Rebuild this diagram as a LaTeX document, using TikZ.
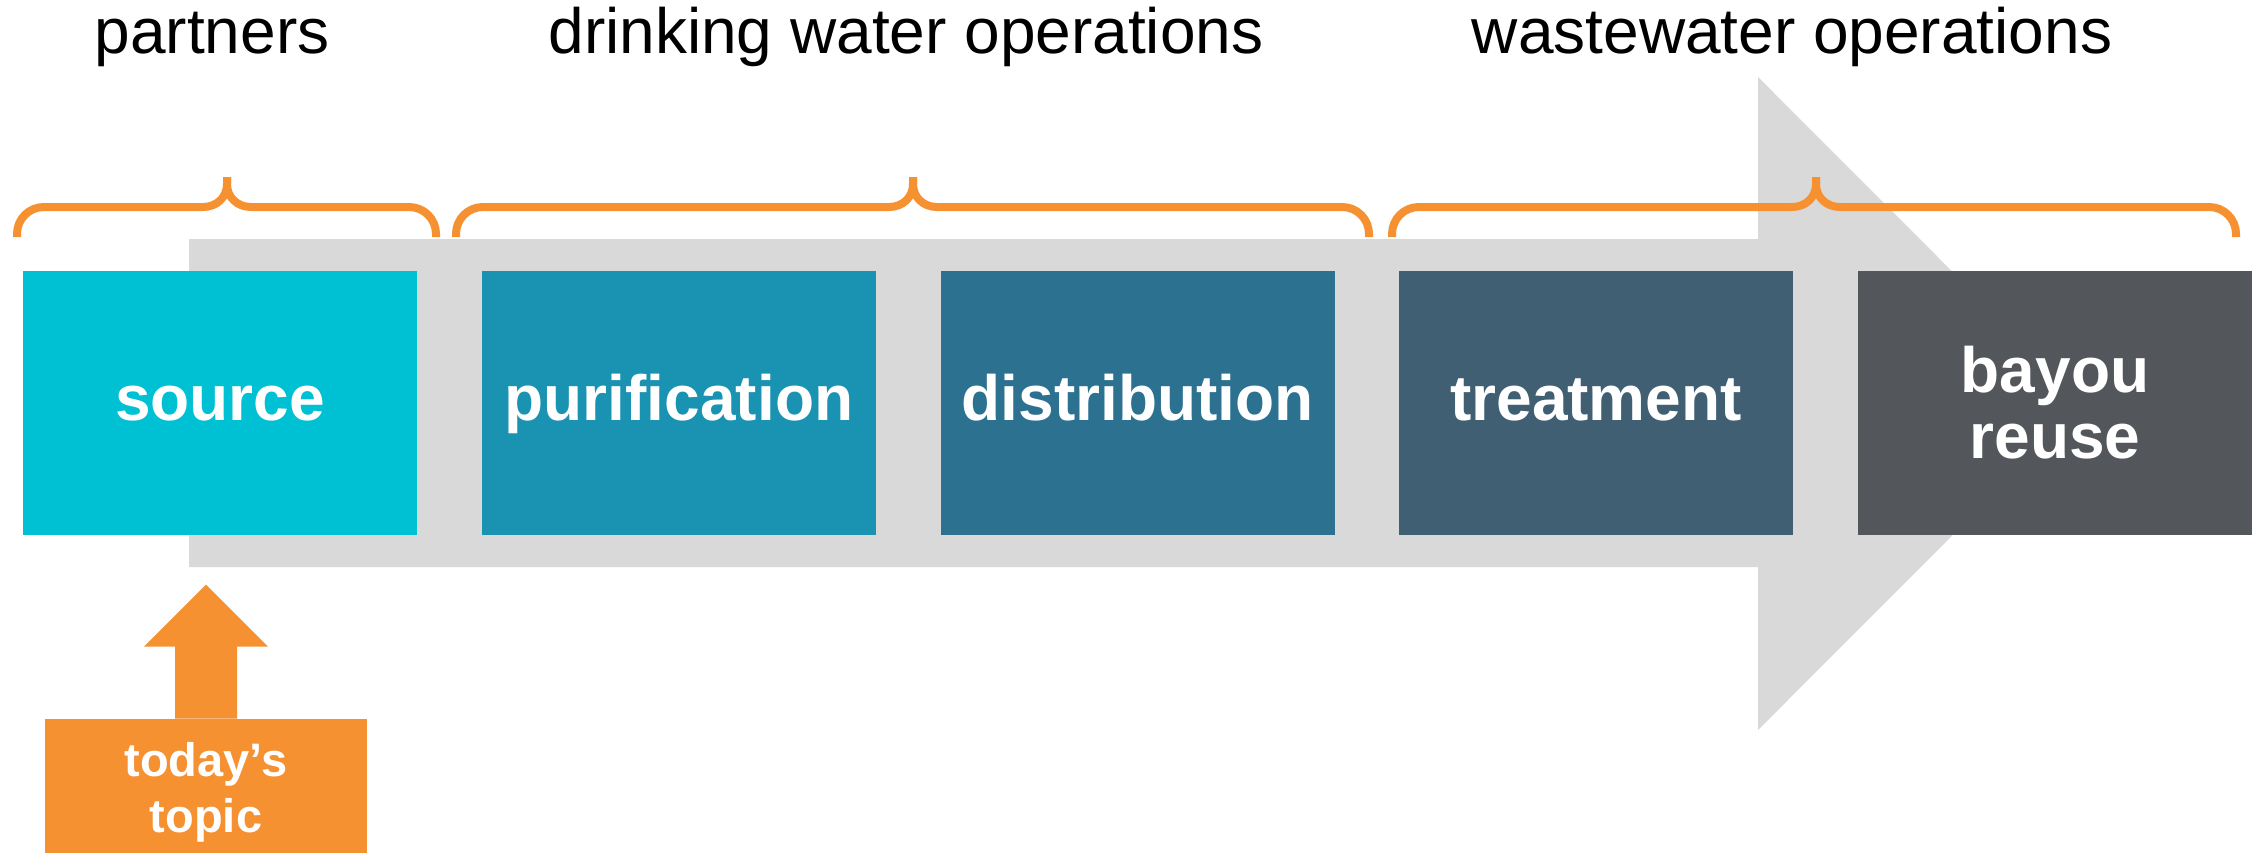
\documentclass[tikz,border=0pt]{standalone}
\usepackage{fontspec}
\setmainfont{Liberation Sans}
\definecolor{cOrange}{RGB}{246,145,50}
\definecolor{cGray}{RGB}{217,217,217}
\definecolor{cSource}{RGB}{0,192,211}
\definecolor{cPuri}{RGB}{26,147,178}
\definecolor{cDist}{RGB}{45,113,144}
\definecolor{cTreat}{RGB}{65,95,115}
\definecolor{cBayou}{RGB}{83,87,91}
\newcommand{\mybrace}[3]{%
  \draw[bracestyle] (#1,237) -- (#1,234) .. controls (#1,219) and (#1+12,207) .. (#1+27,207)
    -- (#2-24,207) .. controls (#2-10,207) and (#2,197) .. (#2,184) -- (#2,177);
  \draw[bracestyle] (#3,237) -- (#3,234) .. controls (#3,219) and (#3-12,207) .. (#3-27,207)
    -- (#2+24,207) .. controls (#2+10,207) and (#2,197) .. (#2,184) -- (#2,177);
}
\begin{document}
\begin{tikzpicture}[x=0.5pt,y=-0.5pt,
  bracestyle/.style={draw=cOrange, line width=4pt, line cap=butt, line join=round},
  stepbox/.style={rectangle, inner sep=0pt, minimum width=197pt, minimum height=132pt,
    text=white, font=\bfseries\fontsize{32}{33}\selectfont, align=center},
  oneline/.style={text height=23.5pt, text depth=6.5pt},
  header/.style={anchor=base, inner sep=0pt, font=\fontsize{32}{38}\selectfont, text=black},
  topicbox/.style={rectangle, inner sep=0pt, fill=cOrange, minimum width=161pt, minimum height=73pt,
    text=white, font=\bfseries\fontsize{23.5}{28}\selectfont, align=center}]
\useasboundingbox (0,0) rectangle (2262,852);
\fill[white] (0,0) rectangle (2262,852);
% big gray arrow
\fill[cGray] (189,239) -- (1758,239) -- (1758,77) -- (2084,403.5) -- (1758,730) -- (1758,567) -- (189,567) -- cycle;
% headers
\node[header] (hpart) at (212,53) {partners};
\node[header] (hdrink) at (906,53) {drinking water operations};
\node[header] (hwaste) at (1792,53) {wastewater operations};
% braces
\mybrace{17}{227}{436}
\mybrace{456}{913}{1369}
\mybrace{1392}{1816}{2236}
% boxes
\node[stepbox, oneline, fill=cSource] (source) at (220,403) {source};
\node[stepbox, oneline, fill=cPuri] (puri) at (679,403) {purification};
\node[stepbox, oneline, fill=cDist] (dist) at (1137.5,403) {distribution};
\node[stepbox, oneline, fill=cTreat] (treat) at (1596,403) {treatment};
\node[stepbox, fill=cBayou] (bayou) at (2055,403) {bayou\\reuse};
% today's topic
\node[topicbox] (topic) at (206,792) {today’s\\topic};
\fill[cOrange] (topic.north) ++(-31,0) -- ++(0,-72) -- ++(-31,0) -- ++(62,-62) -- ++(62,62) -- ++(-31,0) -- ++(0,72) -- cycle;
\end{tikzpicture}
\end{document}
